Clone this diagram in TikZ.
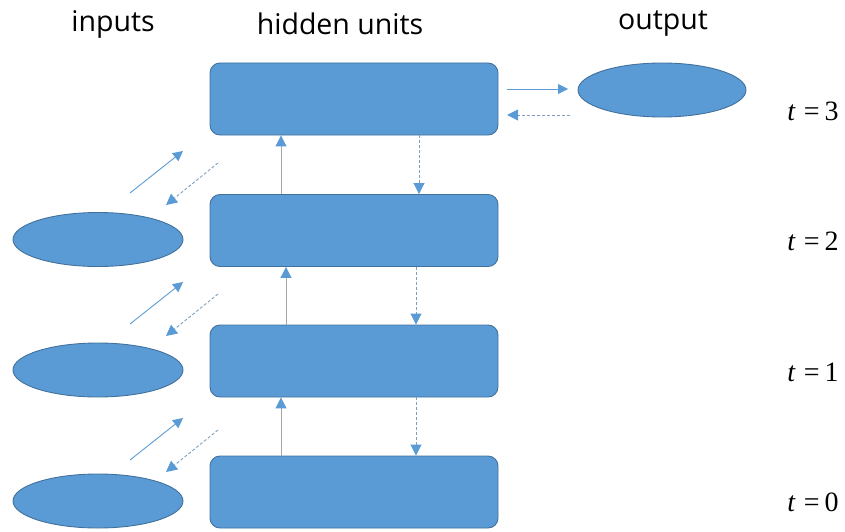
\documentclass[tikz,border=0pt]{standalone}
\usepackage{fontspec}
\setmainfont{Liberation Serif}
\newfontfamily\headfont{Open Sans}
\usetikzlibrary{arrows.meta,calc,shapes.geometric}
\definecolor{unitfill}{HTML}{5B9BD5}
\definecolor{unitedge}{HTML}{41719C}
\definecolor{linkgray}{HTML}{A5A5A5}
\definecolor{dashblue}{HTML}{7F9FBF}
\tikzset{
  hidden/.style={draw=unitedge, fill=unitfill, line width=0.9pt, rounded corners=10pt,
    minimum width=288pt, minimum height=72pt, inner sep=0pt},
  unit/.style={draw=unitedge, fill=unitfill, line width=0.9pt, ellipse,
    minimum width=170pt, minimum height=54pt, inner sep=0pt},
  head/.style={font=\headfont\fontsize{28.5}{32}\selectfont},
  tlabel/.style={font=\fontsize{28}{32}\selectfont},
  fwd/.style={draw=unitfill, line width=0.9pt, -{Triangle[length=10pt,width=10pt]}},
  up/.style={draw=linkgray, line width=1pt, -{Triangle[length=11pt,width=11pt,color=unitfill]}},
  back/.style={draw=dashblue, line width=0.9pt, dash pattern=on 3pt off 2pt,
    -{Triangle[length=11pt,width=11pt,color=unitfill]}},
}
\newcommand{\tstep}[1]{\textit{t}\hspace{8pt}=\hspace{5pt}#1}
\begin{document}
\begin{tikzpicture}[x=1pt,y=-1pt]
\useasboundingbox (0,0) rectangle (845,532);

% column headings
\node[head] (hin) at (113,24) {inputs};
\node[head] (hhid) at (340,24) {hidden units};
\node[head] (hout) at (663,24) {output};

% hidden units, one per time step
\node[hidden] (h3) at (354,99) {};
\node[hidden] (h2) at (354,230.5) {};
\node[hidden] (h1) at (354,361) {};
\node[hidden] (h0) at (354,492) {};

% inputs and output
\node[unit] (x2) at (98,239.5) {};
\node[unit] (x1) at (98,370) {};
\node[unit] (x0) at (98,501) {};
\node[unit, minimum width=168pt] (y) at (662,90) {};

% time labels
\node[tlabel] (t3) at (813,111) {\tstep{3}};
\node[tlabel] (t2) at (813,241) {\tstep{2}};
\node[tlabel] (t1) at (813,372) {\tstep{1}};
\node[tlabel] (t0) at (813,502) {\tstep{0}};

% recurrent links between successive hidden units
\coordinate (ua) at (281,0);
\coordinate (ub) at (286,0);
\coordinate (da) at (419,0);
\coordinate (db) at (416,0);
\draw[up] (h2.north -| ua) -- (h3.south -| ua);
\draw[up] (h1.north -| ub) -- (h2.south -| ub);
\draw[up] (h0.north -| ua) -- (h1.south -| ua);
\draw[back] (h3.south -| da) -- (h2.north -| da);
\draw[back] (h2.south -| db) -- (h1.north -| db);
\draw[back] (h1.south -| db) -- (h0.north -| db);

% input links (forward solid, backward dashed)
\foreach \k/\dy in {2/0,1/131,0/267}{
  \coordinate (fa\k) at (130,193+\dy);
  \coordinate (fb\k) at (183,151+\dy);
  \coordinate (ba\k) at (218,163+\dy);
  \coordinate (bb\k) at (166,205+\dy);
  \draw[fwd] (fa\k) -- (fb\k);
  \draw[back] (ba\k) -- (bb\k);
}

% output links
\coordinate (oa) at (507,89);
\coordinate (ob) at (568,89);
\coordinate (oc) at (570,115);
\coordinate (od) at (507,115);
\draw[fwd] (oa) -- (ob);
\draw[back] (oc) -- (od);
\end{tikzpicture}
\end{document}
